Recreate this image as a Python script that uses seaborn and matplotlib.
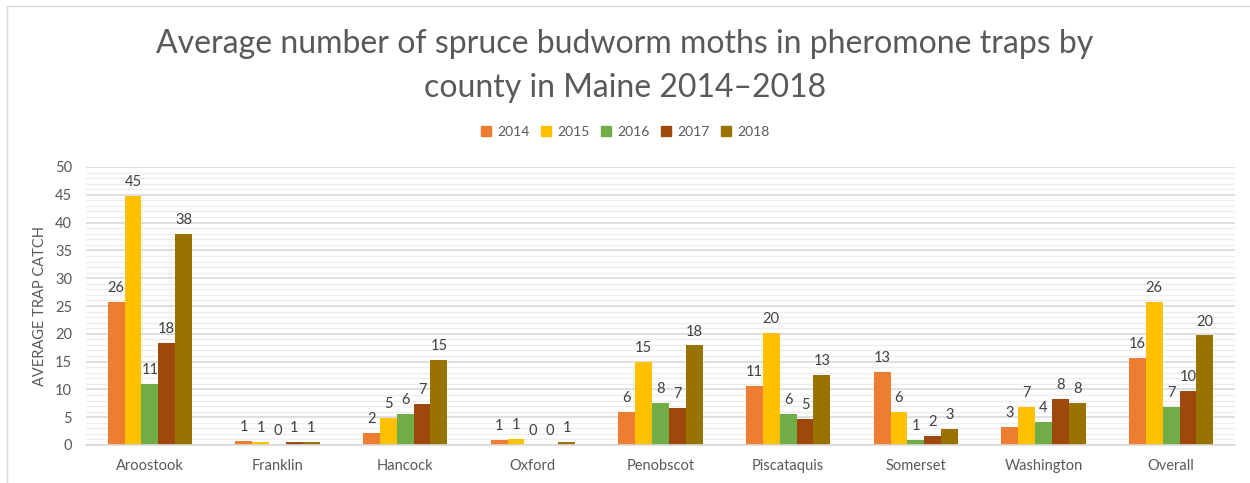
import matplotlib
matplotlib.use('Agg')
import matplotlib.pyplot as plt
import numpy as np
import pandas as pd
import seaborn as sns
from matplotlib.lines import Line2D
from matplotlib.ticker import MultipleLocator

counties = ['Aroostook', 'Franklin', 'Hancock', 'Oxford', 'Penobscot',
            'Piscataquis', 'Somerset', 'Washington', 'Overall']
years = ['2014', '2015', '2016', '2017', '2018']

catch_2014 = [25.8, 0.7, 2.2, 0.95, 6.0, 10.6, 13.1, 3.2, 15.6]
catch_2015 = [44.8, 0.55, 4.8, 1.15, 14.9, 20.2, 6.0, 6.9, 25.7]
catch_2016 = [10.9, 0.0, 5.6, 0.0, 7.6, 5.6, 0.95, 4.2, 6.8]
catch_2017 = [18.3, 0.6, 7.3, 0.0, 6.7, 4.7, 1.6, 8.3, 9.7]
catch_2018 = [37.9, 0.55, 15.3, 0.55, 17.9, 12.6, 2.8, 7.6, 19.7]

colors = ['#ED7D31', '#FFC000', '#70AD47', '#9E480E', '#997300']

series = [catch_2014, catch_2015, catch_2016, catch_2017, catch_2018]
df = pd.DataFrame({
    'County': counties * len(years),
    'Year': np.repeat(years, len(counties)),
    'Catch': np.concatenate(series),
})

sns.set_style('white')
plt.rcParams['font.family'] = ['Lato', 'DejaVu Sans']

fig = plt.figure(figsize=(12.5, 4.83), dpi=100)
ax = fig.add_axes([86 / 1250, 1 - 445 / 483, (1235 - 86) / 1250, (445 - 167) / 483])

sns.barplot(data=df, x='County', y='Catch', hue='Year', palette=colors,
            width=0.66, gap=0, saturation=1, ax=ax, legend=False,
            edgecolor='none')

for cont in ax.containers:
    ax.bar_label(cont, fmt='{:.0f}', padding=5, fontsize=10.5, color='#404040')

ax.set_ylim(0, 50)
ax.set_xlim(-0.5, 8.5)
ax.yaxis.set_major_locator(MultipleLocator(5))
ax.yaxis.set_minor_locator(MultipleLocator(1))
ax.grid(axis='y', which='major', color='#D9D9D9', linewidth=1.2)
ax.grid(axis='y', which='minor', color='#EDEDED', linewidth=1.0)
ax.set_axisbelow(True)

ax.set_xticks(np.arange(-0.5, 9, 1), minor=True)
ax.tick_params(axis='x', which='minor', length=5, color='#D9D9D9', width=1)
ax.tick_params(axis='x', which='major', length=0, pad=10, labelsize=10.5,
               labelcolor='#595959')
ax.tick_params(axis='y', which='both', length=0, labelsize=10.5,
               labelcolor='#595959', pad=10)

for s in ['top', 'right', 'left']:
    ax.spines[s].set_visible(False)
ax.spines['bottom'].set_color('#D9D9D9')
ax.spines['bottom'].set_linewidth(1.2)

ax.set_xlabel('')
ax.set_ylabel('AVERAGE TRAP CATCH', fontsize=10.5, color='#595959', labelpad=6)

fig.text(0.5, 1 - 66 / 483,
         'Average number of spruce budworm moths in pheromone traps by\ncounty in Maine 2014\u20132018',
         ha='center', va='center', fontsize=23, color='#595959',
         linespacing=1.6)

handles = [Line2D([0], [0], marker='s', linestyle='none', markersize=7,
                  markerfacecolor=c, markeredgecolor=c) for c in colors]
fig.legend(handles, years, loc='center', bbox_to_anchor=(0.5, 1 - 132 / 483),
           ncol=5, frameon=False, fontsize=10, labelcolor='#595959',
           handlelength=0.8, handletextpad=0.4, columnspacing=0.8)

# chart frame
fig.add_artist(Line2D([7 / 1250, 1], [1 - 6 / 483, 1 - 6 / 483],
                      transform=fig.transFigure, color='#D9D9D9', linewidth=1))
fig.add_artist(Line2D([7 / 1250, 7 / 1250], [0, 1 - 6 / 483],
                      transform=fig.transFigure, color='#D9D9D9', linewidth=1))

fig.savefig('out.png', dpi=100)
plt.close(fig)
